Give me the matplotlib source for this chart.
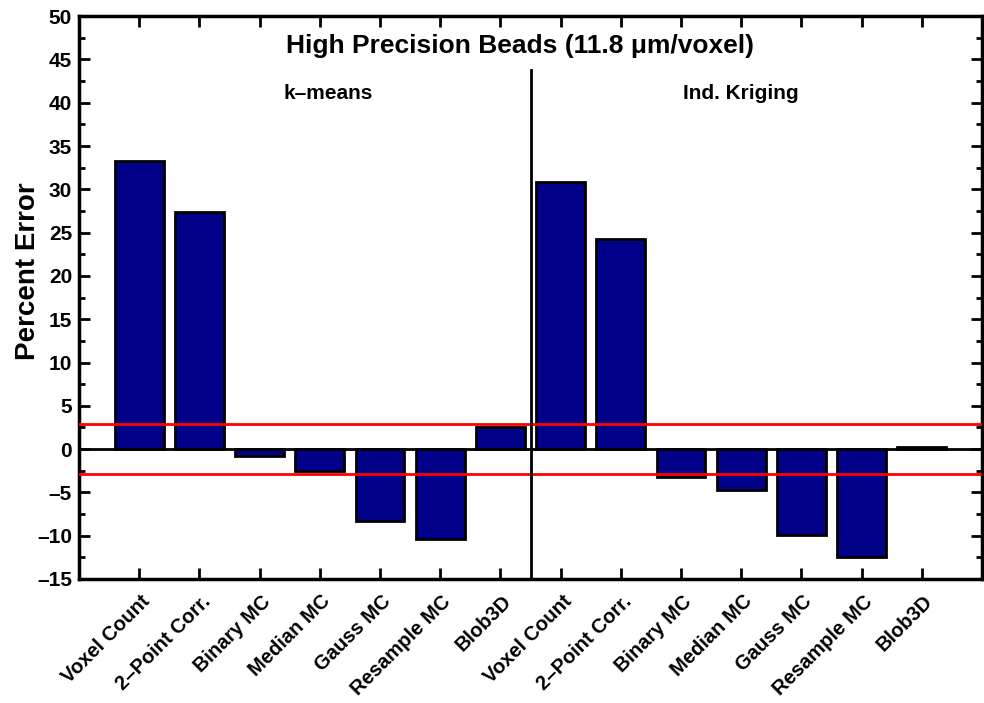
import numpy as np
import matplotlib
matplotlib.use("Agg")
from matplotlib import pyplot as plt
from matplotlib.ticker import MultipleLocator, FixedLocator, NullFormatter

plt.rcParams['font.family'] = ['Liberation Sans', 'DejaVu Sans']
plt.rcParams['font.weight'] = 'bold'

methods = ["Voxel Count", "2\u2013Point Corr.", "Binary MC", "Median MC",
           "Gauss MC", "Resample MC", "Blob3D"]
kmeans = [33.3, 27.4, -0.8, -2.5, -8.3, -10.4, 2.5]
kriging = [30.9, 24.3, -3.2, -4.7, -9.9, -12.5, 0.3]
tolerance = 2.85

labels = methods + methods
values = kmeans + kriging
x = np.arange(1, len(values) + 1)

fig = plt.figure(figsize=(9.84, 7.03), dpi=100)
ax = fig.add_axes([0.0803, 0.1764, 0.9177, 0.8006])

ax.bar(x, values, 0.81, color='#000088', edgecolor='black', linewidth=2, zorder=2)
ax.axhline(0, color='black', linewidth=2, zorder=1)
ax.axhline(tolerance, color='red', linewidth=2, zorder=3)
ax.axhline(-tolerance, color='red', linewidth=2, zorder=3)
ax.plot([7.5, 7.5], [-15, 43.8], color='black', linewidth=2, zorder=3)

ax.set_xlim(0, 15)
ax.set_ylim(-15, 50)

# major ticks mark the bars, the slanted names sit on invisible minor ticks
# placed slightly to the right (as in the original)
ax.xaxis.set_major_locator(FixedLocator(x))
ax.xaxis.set_major_formatter(NullFormatter())
ax.xaxis.set_minor_locator(FixedLocator(x + 0.13))
ax.set_xticklabels(labels, minor=True, rotation=45, ha='right', va='center',
                   rotation_mode='anchor', fontsize=14.5, fontweight='bold')
ax.tick_params(axis='x', which='minor', length=0, pad=14, top=False)

ax.yaxis.set_major_locator(MultipleLocator(5))
ax.yaxis.set_minor_locator(MultipleLocator(2.5))
ax.set_yticklabels([f"{int(v)}".replace('-', '\u2013') for v in ax.get_yticks()])
ax.tick_params(axis='both', which='major', direction='in', top=True, right=True,
               width=2, length=8, labelsize=15)
ax.tick_params(axis='y', which='minor', direction='in', right=True, length=4.5, width=2)
ax.tick_params(axis='y', which='major', pad=5)
for sp in ax.spines.values():
    sp.set_linewidth(2.5)

ax.set_ylabel("Percent Error", fontsize=20, fontweight='bold')
ax.yaxis.set_label_coords(-0.042, 0.547)
ax.text(7.33, 46.6, "High Precision Beads (11.8 \u03bcm/voxel)", ha='center', va='center',
        fontsize=19, fontweight='bold')
ax.text(4.14, 41.1, "k\u2013means", ha='center', va='center', fontsize=15, fontweight='bold')
ax.text(11.0, 41.1, "Ind. Kriging", ha='center', va='center', fontsize=15, fontweight='bold')

fig.savefig("out.png", dpi=100)
